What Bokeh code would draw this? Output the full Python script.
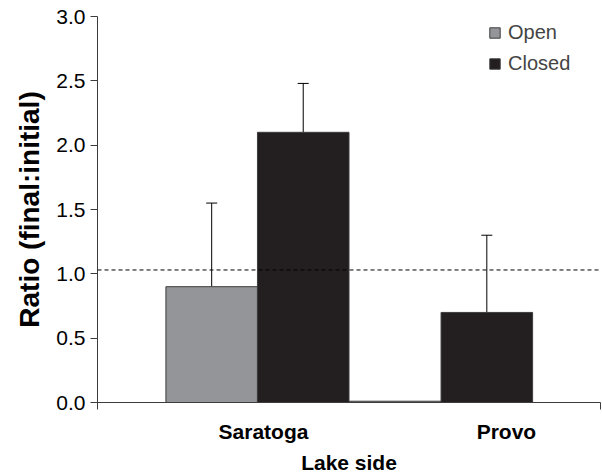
from bokeh.plotting import figure
from bokeh.models import (Range1d, FixedTicker, Span, Whisker, TeeHead,
                          ColumnDataSource, Legend, LegendItem, PrintfTickFormatter)
from bokeh.embed import file_html
from bokeh.resources import INLINE

# ---- data ----
lakes = ["Saratoga", "Provo"]
open_ratio = [0.90, 0.01]
closed_ratio = [2.10, 0.70]
open_err = [0.65, 0.0]
closed_err = [0.38, 0.60]
reference_ratio = 1.03
y_ticks = [0.0, 0.5, 1.0, 1.5, 2.0, 2.5, 3.0]

# ---- layout constants ----
group_centers = [0.636, 1.366]
label_centers = [0.66, 1.626]
bar_w = 0.364
FONT = "Liberation Sans"
OPEN_C = "#939598"
CLOSED_C = "#231f20"
EDGE = "#3c3c3c"

p = figure(width=602, height=476, output_backend="svg", toolbar_location=None,
           x_range=Range1d(0, 2), y_range=Range1d(0, 3.0),
           min_border_left=97, min_border_right=2, min_border_top=16, min_border_bottom=72)
p.grid.visible = False
p.outline_line_color = None
p.background_fill_color = "white"
p.border_fill_color = "white"

src_open = ColumnDataSource(dict(
    x=[c - bar_w / 2 for c in group_centers], top=open_ratio,
    upper=[v + e for v, e in zip(open_ratio, open_err)], err=open_err, lake=lakes))
src_closed = ColumnDataSource(dict(
    x=[c + bar_w / 2 for c in group_centers], top=closed_ratio,
    upper=[v + e for v, e in zip(closed_ratio, closed_err)], err=closed_err, lake=lakes))

r_open = p.vbar(x="x", top="top", width=bar_w, bottom=0, source=src_open,
                fill_color=OPEN_C, line_color=EDGE, line_width=1)
r_closed = p.vbar(x="x", top="top", width=bar_w, bottom=0, source=src_closed,
                  fill_color=CLOSED_C, line_color=EDGE, line_width=1)

# error bars (upper only), skip zero-length ones
def whisker_source(src):
    d = src.data
    idx = [i for i, e in enumerate(d["err"]) if e > 0]
    return ColumnDataSource(dict(x=[d["x"][i] for i in idx],
                                 lower=[d["top"][i] for i in idx],
                                 upper=[d["upper"][i] for i in idx]))

for s in (src_open, src_closed):
    w = Whisker(source=whisker_source(s), base="x", lower="lower", upper="upper",
                line_color="black", line_width=1,
                upper_head=TeeHead(size=11, line_color="black", line_width=1),
                lower_head=None)
    p.add_layout(w)

p.add_layout(Span(location=reference_ratio, dimension="width", line_color="black",
                  line_width=1, line_dash="4 3"))

# y axis
ya = p.yaxis[0]
ya.ticker = FixedTicker(ticks=y_ticks, minor_ticks=[])
ya.formatter = PrintfTickFormatter(format="%.1f")
ya.axis_label = "Ratio (final:initial)"
ya.axis_label_text_font = FONT
ya.axis_label_text_font_style = "bold"
ya.axis_label_text_font_size = "28px"
ya.axis_label_text_color = "black"
ya.axis_label_standoff = 8
ya.major_label_text_font = FONT
ya.major_label_text_font_size = "21px"
ya.major_label_text_color = "black"
ya.major_label_standoff = 5
ya.major_tick_out = 7
ya.major_tick_in = 0
ya.minor_tick_line_color = None
ya.axis_line_color = EDGE
ya.major_tick_line_color = EDGE

# x axis
xa = p.xaxis[0]
xa.ticker = FixedTicker(ticks=label_centers, minor_ticks=[0, 2])
xa.major_label_overrides = {label_centers[i]: lakes[i] for i in range(len(lakes))}
xa.major_label_text_font = FONT
xa.major_label_text_font_style = "bold"
xa.major_label_text_font_size = "21px"
xa.major_label_text_color = "black"
xa.major_label_standoff = 10
xa.major_tick_line_color = None
xa.minor_tick_out = 7
xa.minor_tick_in = 0
xa.minor_tick_line_color = EDGE
xa.axis_line_color = EDGE
xa.axis_label = "Lake side"
xa.axis_label_text_font = FONT
xa.axis_label_text_font_style = "bold"
xa.axis_label_text_font_size = "21px"
xa.axis_label_text_color = "black"
xa.axis_label_standoff = 5

legend = Legend(items=[LegendItem(label="Open", renderers=[r_open]),
                       LegendItem(label="Closed", renderers=[r_closed])],
                location=(391, 327), padding=0, margin=0, spacing=8,
                glyph_width=13, glyph_height=13, label_standoff=7,
                label_text_font=FONT, label_text_font_size="20px",
                border_line_color=None, background_fill_alpha=0)
p.add_layout(legend)

open("out.html", "w").write(file_html(p, INLINE))
